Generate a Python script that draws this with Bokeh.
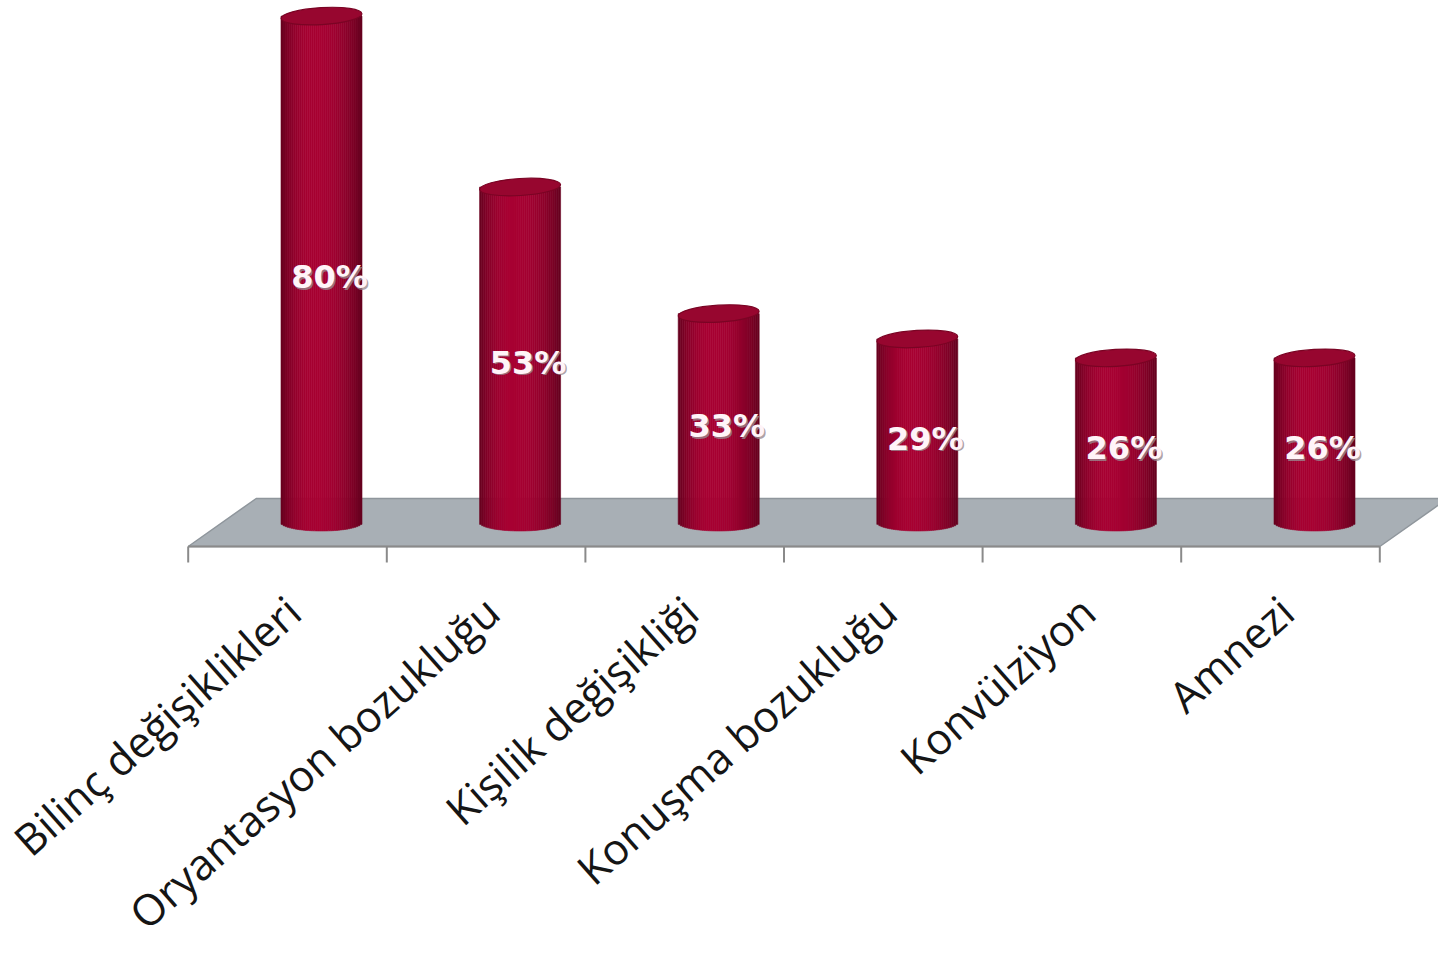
import numpy as np
from bokeh.plotting import figure
from bokeh.models import Range1d
from bokeh.embed import file_html
from bokeh.resources import INLINE
from bokeh.core.properties import value

# ---- data ----
categories = ["Bilinç değişiklikleri", "Oryantasyon bozukluğu", "Kişilik değişikliği",
              "Konuşma bozukluğu", "Konvülziyon", "Amnezi"]
percent = [80, 53, 33, 29, 26, 26]
pct_labels = ["80%", "53%", "33%", "29%", "26%", "26%"]

# ---- layout constants (pixels) ----
W, H = 1438, 955
PXX = 198.6   # px per category
PXY = 6.33    # px per percent
X0 = 321      # px of first bar centre
Y0 = 522      # px (from top) of zero at bar depth
DEPTH_DX, DEPTH_DY = 68, 48
R_PX, RY_PX = 40.5, 8.5

n = len(categories)
p = figure(width=W, height=H,
           x_range=Range1d(-X0 / PXX, (W - X0) / PXX),
           y_range=Range1d(-(H - Y0) / PXY, Y0 / PXY),
           output_backend="svg", toolbar_location=None,
           x_axis_type=None, y_axis_type=None, min_border=0)
p.grid.visible = False
p.outline_line_color = None
p.background_fill_color = "white"

hx = DEPTH_DX / 2 / PXX
hy = DEPTH_DY / 2 / PXY

# floor
p.patch([-0.5 - hx, n - 0.5 - hx, n - 0.5 + hx, -0.5 + hx],
        [-hy, -hy, hy, hy],
        fill_color="#a8afb5", line_color="#8f969c", line_width=1.5)
# front axis line + ticks
p.line([-0.5 - hx, n - 0.5 - hx], [-hy, -hy], line_color="#8a8a8a", line_width=2)
tick_x = [k - 0.5 - hx for k in range(n + 1)]
p.segment(x0=tick_x, y0=[-hy] * (n + 1), x1=tick_x, y1=[-hy - 16 / PXY] * (n + 1),
          line_color="#8a8a8a", line_width=2)

# cylinders
a = R_PX / PXX
b = RY_PX / PXY
NS = 40
edges = np.linspace(-a, a, NS + 1)
mids = (edges[:-1] + edges[1:]) / 2
t = (mids + a) / (2 * a)
peak = 0.42


def shade(tt):
    d = (tt - peak) / (peak if tt < peak else 1 - peak)
    lum = 1 - 0.40 * abs(d) ** 2.2
    base = np.array([168, 2, 51])
    c = (base * lum).astype(int)
    return "#%02x%02x%02x" % tuple(c)


cols = [shade(tt) for tt in t]
for k, v in enumerate(percent):
    left = k + edges[:-1]
    right = k + edges[1:]
    bottom = -b * np.sqrt(np.clip(1 - (mids / a) ** 2, 0, 1))
    top = np.full(NS, float(v))
    p.quad(left=left, right=right, bottom=bottom, top=top,
           fill_color=cols, line_color=cols, line_width=0.6)
    p.ellipse(x=[k], y=[v], width=[2 * a], height=[2 * b], angle=0.06,
              fill_color="#97062f", line_color="#7a0424", line_width=1.2)

# percent labels (soft grey shadow + white)
px_ = list(range(n))
py_ = [v / 2 for v in percent]
p.text(x=px_, y=py_, text=pct_labels, x_offset=9.5, y_offset=9.5,
       text_color="#9a8a90", text_alpha=0.8, text_font=value("DejaVu Sans"),
       text_font_style="bold", text_font_size="32px",
       text_align="center", text_baseline="middle")
p.text(x=px_, y=py_, text=pct_labels, x_offset=8, y_offset=8,
       text_color="#fff4f8", text_font=value("DejaVu Sans"), text_font_style="bold",
       text_font_size="32px", text_align="center", text_baseline="middle")

# category labels
p.text(x=[k - hx for k in range(n)], y=[-hy] * n, text=categories,
       x_offset=6, y_offset=58, angle=np.deg2rad(41.5),
       text_color="#151515", text_font=value("Open Sans"),
       text_font_size="43px", text_align="right", text_baseline="middle")

open("out.html", "w").write(file_html(p, INLINE))
